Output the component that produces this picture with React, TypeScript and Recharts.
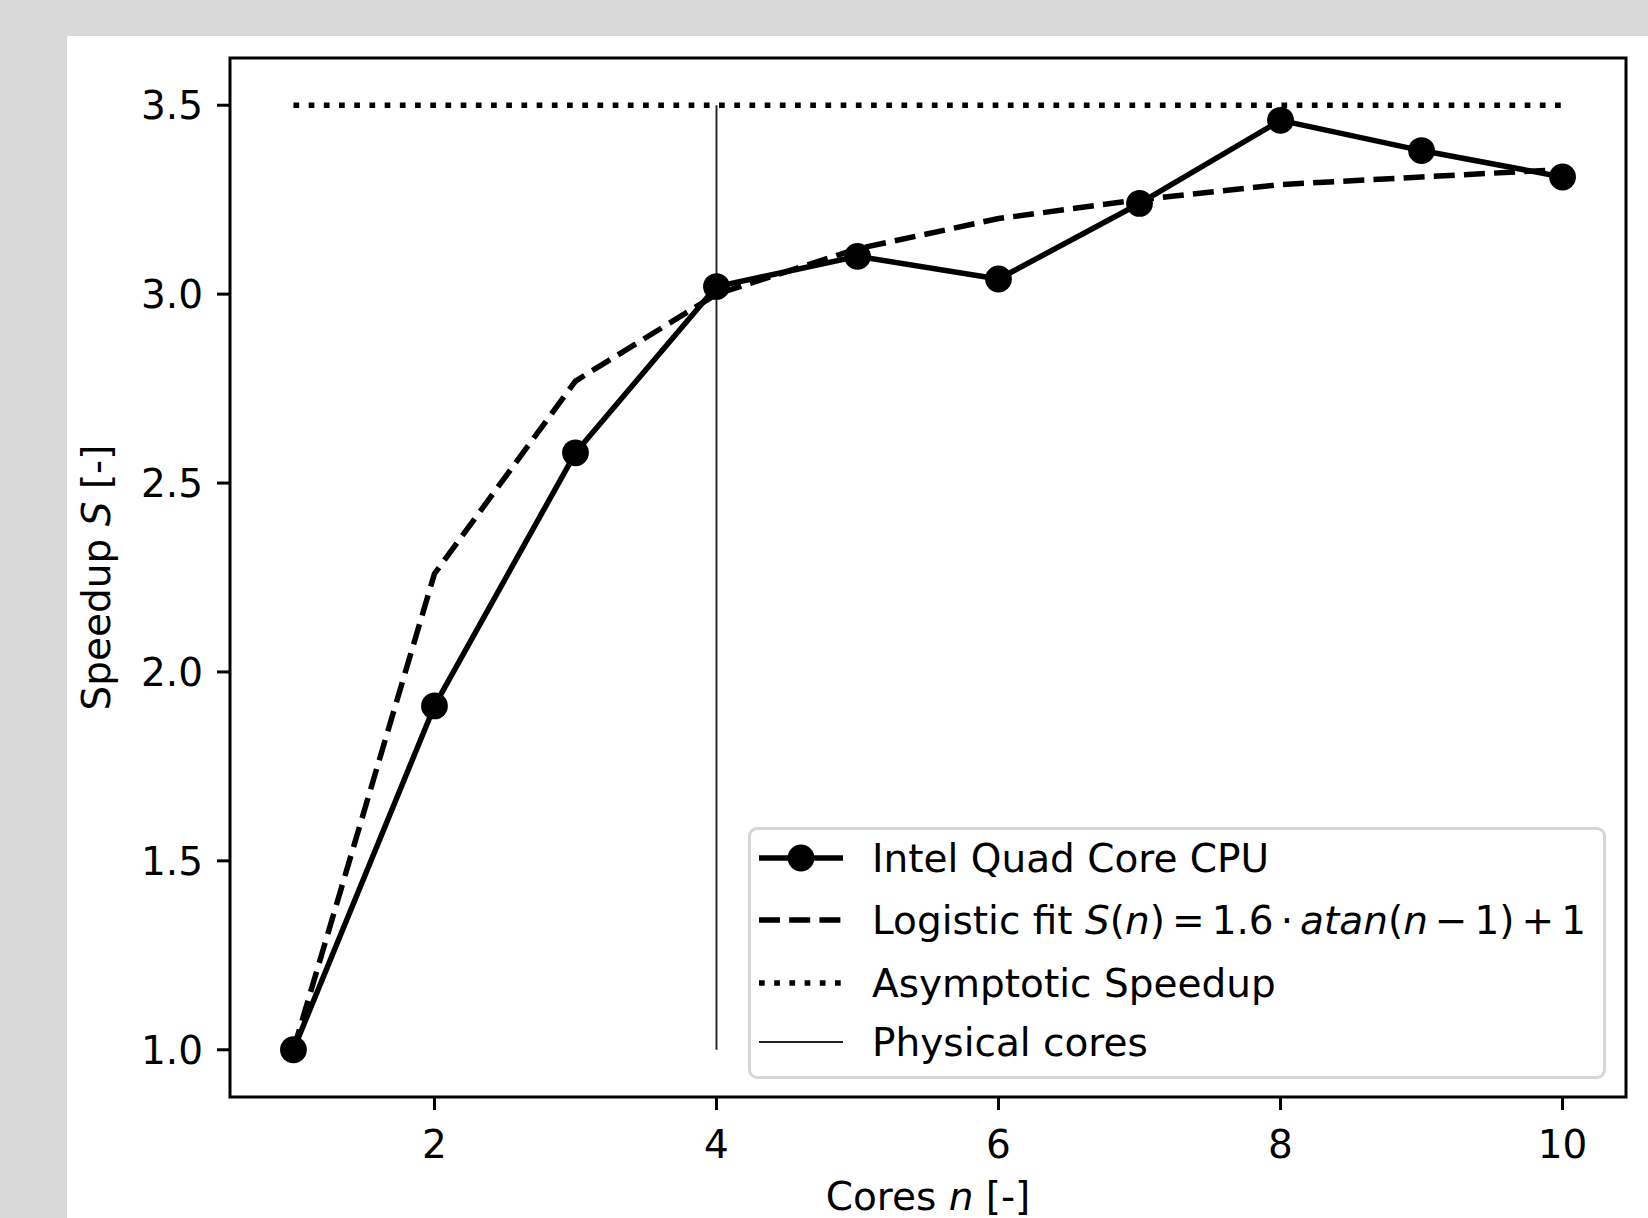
import React from "react";
import { LineChart, Line, XAxis, YAxis, ReferenceArea, Legend } from "recharts";

// measured speedup per number of cores
const cores = [1, 2, 3, 4, 5, 6, 7, 8, 9, 10];
const measuredSpeedup = [1.0, 1.91, 2.58, 3.02, 3.1, 3.04, 3.24, 3.46, 3.38, 3.31];
const fittedSpeedup = [1.0, 2.26, 2.77, 3.0, 3.12, 3.2, 3.25, 3.29, 3.31, 3.33];
const asymptoteCores = [1, 10];
const asymptoteSpeedup = [3.5, 3.5];
const physicalCores = [4, 4];
const physicalSpeedup = [1.0, 3.5];
const xTicks = [2, 4, 6, 8, 10];
const yTicks = [1.0, 1.5, 2.0, 2.5, 3.0, 3.5];
const xDomain: [number, number] = [0.55, 10.45];
const yDomain: [number, number] = [0.875, 3.625];

const FONT = "DejaVu Sans, sans-serif";
const FS = 39;

const toPoints = (xs: number[], ys: number[]) => xs.map((n, i) => ({ n, s: ys[i] }));

const measuredData = toPoints(cores, measuredSpeedup);
const fittedData = toPoints(cores, fittedSpeedup);
const asymptoteData = toPoints(asymptoteCores, asymptoteSpeedup);
const physicalData = toPoints(physicalCores, physicalSpeedup);

const tickStyle = { fontSize: FS, fill: "#000", fontFamily: FONT };
const tickLine = { stroke: "#000", strokeWidth: 3 };

function YLabel(props: any) {
  const vb = props.viewBox || { x: 90, y: 58, width: 140, height: 1039 };
  const cx = vb.x + 6;
  const cy = vb.y + vb.height / 2;
  return (
    <text
      x={cx}
      y={cy + 14}
      transform={`rotate(-90, ${cx}, ${cy})`}
      textAnchor="middle"
      fontSize={FS}
      fontFamily={FONT}
      fill="#000"
    >
      Speedup <tspan fontStyle="italic">S</tspan> [-]
    </text>
  );
}

function XLabel(props: any) {
  const vb = props.viewBox || { x: 230, y: 1097, width: 1396, height: 80 };
  return (
    <text
      x={vb.x + vb.width / 2}
      y={vb.y + 113}
      textAnchor="middle"
      fontSize={FS}
      fontFamily={FONT}
      fill="#000"
    >
      Cores <tspan fontStyle="italic">n</tspan> [-]
    </text>
  );
}

function LegendBox() {
  const rows = [31, 93, 156, 215];
  const tx = 124;
  const op = { dx: 7 };
  return (
    <svg width={858} height={252} style={{ display: "block" }}>
      <rect x={1.5} y={1.5} width={855} height={249} rx={7.6} fill="#fff" fillOpacity={0.8} stroke="#d6d6d6" strokeWidth={3} />
      <line x1={11} x2={95} y1={rows[0]} y2={rows[0]} stroke="#000" strokeWidth={5.5} />
      <circle cx={53} cy={rows[0]} r={13.4} fill="#000" />
      <line x1={11} x2={95} y1={rows[1]} y2={rows[1]} stroke="#000" strokeWidth={5.5} strokeDasharray="21 9.2" />
      <line x1={11} x2={95} y1={rows[2]} y2={rows[2]} stroke="#000" strokeWidth={5.5} strokeDasharray="5.7 9.5" />
      <line x1={11} x2={95} y1={rows[3]} y2={rows[3]} stroke="#222" strokeWidth={1.9} />
      <g fontSize={FS} fontFamily={FONT} fill="#000">
        <text x={tx} y={rows[0] + 14}>Intel Quad Core CPU</text>
        <text x={tx} y={rows[1] + 14}>
          Logistic fit <tspan fontStyle="italic">S</tspan>(<tspan fontStyle="italic">n</tspan>)
          <tspan {...op}>=</tspan>
          <tspan {...op}>1.6</tspan>
          <tspan {...op}>·</tspan>
          <tspan {...op} fontStyle="italic">atan</tspan>(<tspan fontStyle="italic">n</tspan>
          <tspan {...op}>−</tspan>
          <tspan {...op}>1)</tspan>
          <tspan {...op}>+</tspan>
          <tspan {...op}>1</tspan>
        </text>
        <text x={tx} y={rows[2] + 14}>Asymptotic Speedup</text>
        <text x={tx} y={rows[3] + 14}>Physical cores</text>
      </g>
    </svg>
  );
}

export default function App() {
  return (
    <div style={{ position: "absolute", left: 0, top: 0, width: 1648, height: 1218, background: "#d9d9d9" }}>
      <div style={{ position: "absolute", left: 67, top: 36, width: 1581, height: 1182, background: "#fff" }} />
      <div style={{ position: "absolute", left: 0, top: 0 }}>
        <LineChart width={1648} height={1218} margin={{ top: 58, right: 22, left: 90, bottom: 41 }}>
          <XAxis
            type="number"
            dataKey="n"
            domain={xDomain}
            allowDataOverflow
            ticks={xTicks}
            interval={0}
            height={80}
            tick={tickStyle}
            tickLine={tickLine}
            tickSize={13}
            tickMargin={20}
            axisLine={false}
            label={<XLabel />}
          />
          <YAxis
            type="number"
            dataKey="s"
            domain={yDomain}
            allowDataOverflow
            ticks={yTicks}
            interval={0}
            width={140}
            tick={tickStyle}
            tickLine={tickLine}
            tickSize={13}
            tickMargin={14}
            axisLine={false}
            tickFormatter={(v: number) => v.toFixed(1)}
            label={<YLabel />}
          />
          <ReferenceArea
            x1={xDomain[0]}
            x2={xDomain[1]}
            y1={yDomain[0]}
            y2={yDomain[1]}
            fill="none"
            stroke="#000"
            strokeWidth={3}
            ifOverflow="visible"
          />
          <Line
            data={measuredData}
            dataKey="s"
            type="linear"
            stroke="#000"
            strokeWidth={5.5}
            strokeLinejoin="round"
            dot={{ r: 13.4, fill: "#000", stroke: "#000", strokeWidth: 0 }}
            activeDot={false}
            isAnimationActive={false}
          />
          <Line
            data={fittedData}
            dataKey="s"
            type="linear"
            stroke="#000"
            strokeWidth={5.5}
            strokeDasharray="21 9.2"
            dot={false}
            activeDot={false}
            isAnimationActive={false}
          />
          <Line
            data={asymptoteData}
            dataKey="s"
            type="linear"
            stroke="#000"
            strokeWidth={5.5}
            strokeDasharray="5.7 9.5"
            dot={false}
            activeDot={false}
            isAnimationActive={false}
          />
          <Line
            data={physicalData}
            dataKey="s"
            type="linear"
            stroke="#222"
            strokeWidth={1.9}
            dot={false}
            activeDot={false}
            isAnimationActive={false}
          />
          <Legend
            layout="horizontal"
            verticalAlign="middle"
            align="center"
            content={() => <LegendBox />}
            wrapperStyle={{ left: 748, top: 827, width: 858, height: 252 }}
          />
        </LineChart>
      </div>
    </div>
  );
}
